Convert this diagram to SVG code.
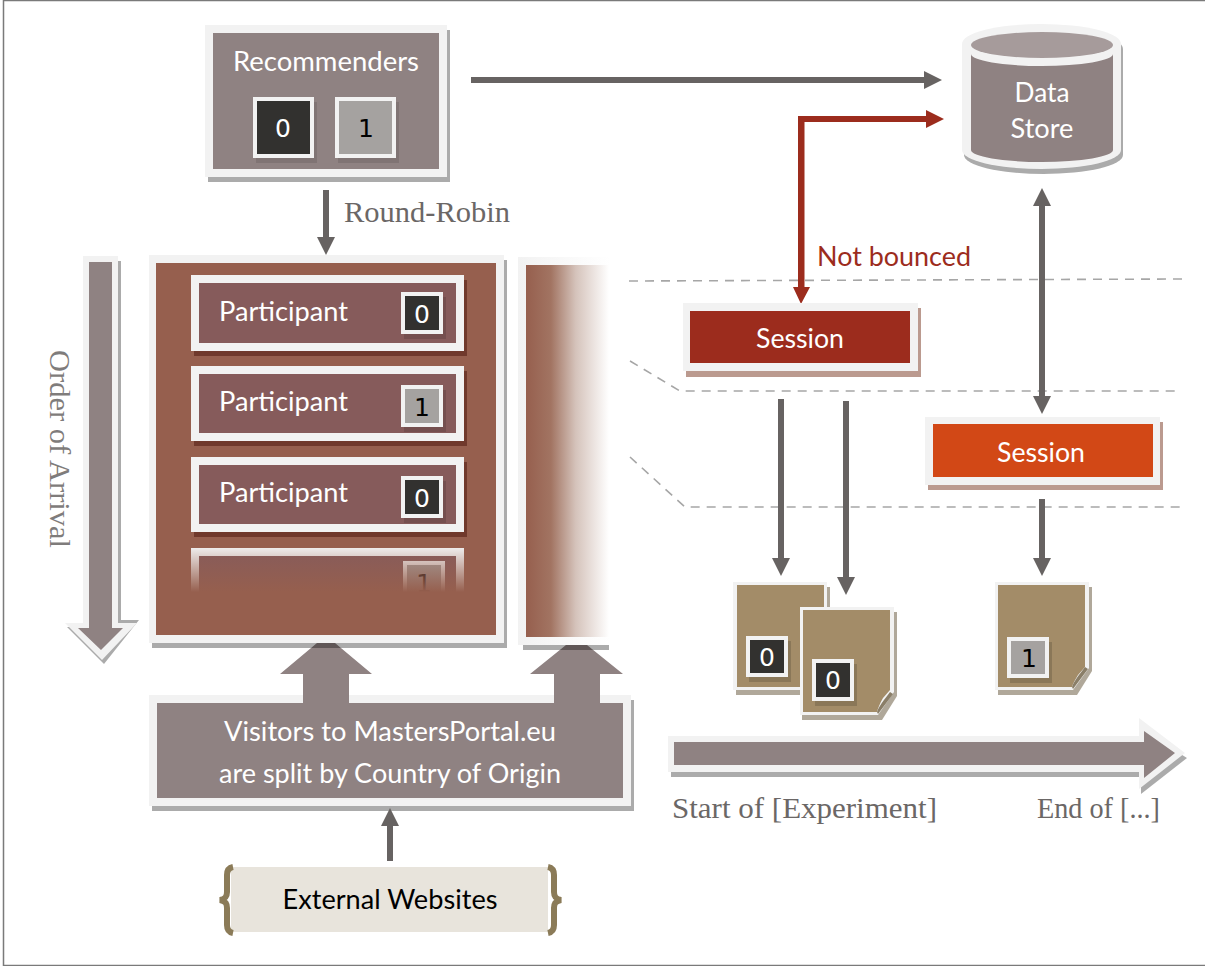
<svg xmlns="http://www.w3.org/2000/svg" width="1205" height="966" viewBox="0 0 1205 966">
<style>
.fr{fill:#f2f2f2}
.sh{fill:#000;fill-opacity:.33}
.gr{fill:#8f8282}
.ln{fill:#676362}
.rd{fill:#9c2c1d}
.dk{fill:#32312f}
.lg{fill:#a5a2a0}
.dash{fill:none;stroke:#a6a6a6;stroke-width:1.6;stroke-dasharray:9 7}
text{font-family:"Lato","Open Sans",sans-serif;font-size:27px;fill:#fff}
.c{text-anchor:middle}
.dg{font-family:"DejaVu Sans",sans-serif;font-size:25px;text-anchor:middle}
.se{font-family:"Liberation Serif",serif;font-size:30px;fill:#6b6766}
.doc{fill:#a38c68}
</style>
<defs>
<linearGradient id="fadeR" x1="0" x2="1" y1="0" y2="0">
<stop offset="0" stop-color="#965f4e"/><stop offset=".3" stop-color="#a27462"/><stop offset=".6" stop-color="#d5c3bb"/><stop offset="1" stop-color="#fff"/>
</linearGradient>
<linearGradient id="fadeF" x1="0" x2="1" y1="0" y2="0">
<stop offset="0" stop-color="#f2f2f2"/><stop offset="1" stop-color="#fff"/>
</linearGradient>
<linearGradient id="fadeD" x1="0" x2="0" y1="0" y2="1">
<stop offset="0" stop-color="#965f4e" stop-opacity="0"/><stop offset="1" stop-color="#965f4e"/>
</linearGradient>
</defs>
<rect x="3.500" y="0.500" width="1212" height="965" fill="#fff" stroke="#7a7a7a" stroke-width="1.5"/>

<g id="visitors">
<rect class="sh" x="152" y="700" width="482" height="111"/>
<rect class="fr" x="149" y="695" width="482" height="111"/>
<rect class="gr" x="157" y="703" width="466" height="95"/>
<text class="c" x="390" y="741" textLength="332" lengthAdjust="spacingAndGlyphs">Visitors to MastersPortal.eu</text>
<text class="c" x="390" y="783" textLength="342" lengthAdjust="spacingAndGlyphs">are split by Country of Origin</text>
</g>

<g id="connectors">
<path class="dash" d="M629 281L1183 279"/>
<path class="dash" d="M630 361L680 391L1180 391"/>
<path class="dash" d="M630 457L685 507L1183 507"/>
<path class="gr" d="M317 643H335L372 674H349V705H303V674H280Z"/>
<path class="gr" d="M566 645H587L623 674H600V705H554V674H530Z"/>
<path class="ln" d="M471 77H924V71L942 80L924 89V83H471Z"/>
<path class="ln" d="M323 190H329V237H335L326 255L317 237H323Z"/>
<path class="ln" d="M387 861V826H381L390 808L399 826H393V861Z"/>
<path class="ln" d="M778 399H784V558H790L781 576L772 558H778Z"/>
<path class="ln" d="M843 401H849V577H855L846 595L837 577H843Z"/>
<path class="ln" d="M1039 499H1045V558H1051L1042 576L1033 558H1039Z"/>
<path class="ln" d="M1039 206H1033L1042 188L1051 206H1045V396H1051L1042 414L1033 396H1039Z"/>
<path class="rd" d="M798 287V116H926V110L944 119L926 128V122H804.500V287H810L801 304L793 287Z"/>
<text x="817" y="266" textLength="154" lengthAdjust="spacingAndGlyphs" style="fill:#9c2c1d">Not bounced</text>
<text class="se" x="344" y="222" textLength="166" lengthAdjust="spacingAndGlyphs">Round-Robin</text>
</g>

<g id="recommenders">
<rect class="sh" x="208" y="30" width="242" height="152"/>
<rect class="fr" x="205" y="25" width="242" height="152"/>
<rect class="gr" x="213" y="33" width="226" height="136"/>
<text class="c" x="326" y="71" textLength="186" lengthAdjust="spacingAndGlyphs">Recommenders</text>
<rect class="sh" x="256" y="102" width="61" height="61" style="fill-opacity:.1"/>
<rect class="fr" x="253" y="97" width="61" height="61"/><rect class="dk" x="257" y="101" width="53" height="53"/>
<text class="dg" x="283" y="137">0</text>
<rect class="sh" x="338" y="102" width="61" height="61" style="fill-opacity:.1"/>
<rect class="fr" x="335" y="97" width="61" height="61"/><rect class="lg" x="339" y="101" width="53" height="53"/>
<text class="dg" x="366" y="137" style="fill:#000">1</text>
</g>

<g id="order-arrow">
<path class="sh" d="M86 261H121V620H139L104 664L67 627H86Z"/>
<path class="fr" d="M83 256H118V623H137L102 660L65 623H83Z"/>
<path class="gr" d="M89 262H112V628H123L101 650L78 628H89Z"/>
<text class="se" transform="translate(50 350) rotate(90)" x="0" y="0" textLength="198" lengthAdjust="spacingAndGlyphs" style="fill:#7f7c7b">Order of Arrival</text>
</g>

<g id="panel-main">
<rect class="sh" x="152" y="260" width="355" height="388"/>
<rect class="fr" x="149" y="255" width="355" height="388"/>
<rect fill="#965f4e" x="156" y="263" width="340" height="372"/>
</g>
<g id="participant-1">
<rect fill="#70392c" x="194" y="280" width="273" height="76"/>
<rect class="fr" x="191" y="275" width="273" height="76"/>
<rect fill="#865b5b" x="199" y="283" width="257" height="60"/>
<text x="219" y="321" textLength="129" lengthAdjust="spacingAndGlyphs">Participant</text>
<rect class="sh" x="404" y="297" width="42" height="42" style="fill-opacity:.12"/>
<rect class="fr" x="401" y="292" width="42" height="42"/><rect class="dk" x="405" y="296" width="34" height="34"/>
<text class="dg" x="422" y="323">0</text>
</g>
<g id="participant-2">
<rect fill="#70392c" x="194" y="371" width="273" height="75"/>
<rect class="fr" x="191" y="366" width="273" height="75"/>
<rect fill="#865b5b" x="199" y="374" width="257" height="59"/>
<text x="219" y="411" textLength="129" lengthAdjust="spacingAndGlyphs">Participant</text>
<rect class="sh" x="404" y="390" width="42" height="42" style="fill-opacity:.12"/>
<rect class="fr" x="401" y="385" width="42" height="42"/><rect class="lg" x="405" y="389" width="34" height="34"/>
<text class="dg" x="422" y="416" style="fill:#000">1</text>
</g>
<g id="participant-3">
<rect fill="#70392c" x="194" y="462" width="273" height="75"/>
<rect class="fr" x="191" y="457" width="273" height="75"/>
<rect fill="#865b5b" x="199" y="465" width="257" height="59"/>
<text x="219" y="502" textLength="129" lengthAdjust="spacingAndGlyphs">Participant</text>
<rect class="sh" x="404" y="481" width="42" height="42" style="fill-opacity:.12"/>
<rect class="fr" x="401" y="476" width="42" height="42"/><rect class="dk" x="405" y="480" width="34" height="34"/>
<text class="dg" x="422" y="507">0</text>
</g>
<g id="participant-4">
<rect class="fr" x="191" y="548" width="273" height="46"/>
<rect fill="#865b5b" x="199" y="556" width="257" height="40"/>
<rect class="fr" x="403" y="561" width="42" height="36"/><rect class="lg" x="407" y="565" width="34" height="32"/>
<text class="dg" x="424" y="592" style="fill:#000">1</text>
<rect fill="url(#fadeD)" x="188" y="546" width="280" height="46"/>
<rect fill="#965f4e" x="188" y="592" width="280" height="8"/>
</g>
<g id="panel-fade">
<rect class="sh" x="523" y="645" width="86" height="5"/>
<rect fill="url(#fadeF)" x="518" y="257" width="92" height="388"/>
<rect fill="url(#fadeR)" x="526" y="265" width="83" height="372"/>
</g>

<g id="external-websites">
<rect fill="#e8e4dc" x="231" y="867" width="317" height="65"/>
<path fill="none" stroke="#8b7b58" stroke-width="6" d="M233 867C228 868 227 871 227 875V892C227 897 225 899 220 900C225 901 227 903 227 908V925C227 929 228 932 233 933"/>
<path fill="none" stroke="#8b7b58" stroke-width="6" d="M548 867C553 868 554 871 554 875V892C554 897 556 899 561 900C556 901 554 903 554 908V925C554 929 553 932 548 933"/>
<text class="c" x="390" y="909" textLength="215" lengthAdjust="spacingAndGlyphs" style="fill:#000">External Websites</text>
</g>

<g id="data-store">
<path class="sh" d="M964 49A79.500 20 0 0 1 1123 49V155A79.500 19 0 0 1 964 155Z"/>
<path class="fr" d="M962 44A79.500 20 0 0 1 1121 44V150A79.500 19 0 0 1 962 150Z"/>
<path class="gr" d="M971 54A71 12 0 0 0 1113 54V150A71 12 0 0 1 971 150Z"/>
<ellipse cx="1042" cy="45" rx="71" ry="13" fill="#a69b9b"/>
<text class="c" x="1042" y="102" textLength="55" lengthAdjust="spacingAndGlyphs">Data</text>
<text class="c" x="1042" y="138" textLength="63" lengthAdjust="spacingAndGlyphs">Store</text>
</g>

<g id="session-1">
<rect x="686" y="308" width="235" height="69" fill="#bb9a8f"/>
<rect class="fr" x="683" y="303" width="235" height="68"/>
<rect fill="#9c2c1d" x="690" y="311" width="220" height="52"/>
<text class="c" x="800" y="348" textLength="88" lengthAdjust="spacingAndGlyphs">Session</text>
</g>
<g id="session-2">
<rect x="928" y="422" width="235" height="68" fill="#bb9a8f"/>
<rect class="fr" x="925" y="417" width="235" height="68"/>
<rect fill="#d24816" x="933" y="424" width="220" height="53"/>
<text class="c" x="1041" y="462" textLength="88" lengthAdjust="spacingAndGlyphs">Session</text>
</g>

<g id="doc-1">
<rect x="736" y="587" width="94" height="108" fill="#b0a89a"/>
<rect class="fr" x="733" y="582" width="94" height="108"/>
<rect class="doc" x="737" y="585" width="87" height="102"/>
<rect class="sh" x="749" y="641" width="42" height="41" style="fill-opacity:.15"/>
<rect class="fr" x="746" y="636" width="42" height="41"/><rect class="dk" x="750" y="640" width="34" height="33"/>
<text class="dg" x="767" y="666">0</text>
</g>
<g id="doc-2">
<path d="M802 612H897V696L882 720H802Z" fill="#b0a89a"/>
<path class="fr" d="M800 607H894V692L878 715H800Z"/>
<path class="doc" d="M803 610H890V690L883 698C880 703 878 708 877 712H803Z"/>
<path fill="#8a7e68" d="M877 712C879 706 884 700 890 692L893 694L878 714Z"/>
<rect class="sh" x="815" y="664" width="42" height="42" style="fill-opacity:.15"/>
<rect class="fr" x="812" y="659" width="42" height="42"/><rect class="dk" x="816" y="663" width="34" height="34"/>
<text class="dg" x="833" y="689">0</text>
</g>
<g id="doc-3">
<path d="M998 587H1092V671L1077 695H998Z" fill="#b0a89a"/>
<path class="fr" d="M995 582H1089V668L1073 690H995Z"/>
<path class="doc" d="M998 585H1085V667L1078 675C1075 680 1073 683 1072 687H998Z"/>
<path fill="#8a7e68" d="M1072 687C1074 681 1079 675 1085 667L1088 669L1073 689Z"/>
<rect class="sh" x="1010" y="642" width="42" height="41" style="fill-opacity:.15"/>
<rect class="fr" x="1007" y="637" width="42" height="41"/><rect class="lg" x="1011" y="641" width="34" height="33"/>
<text class="dg" x="1029" y="667" style="fill:#000">1</text>
</g>

<g id="timeline">
<path class="sh" d="M671 741H1142V730L1187 758L1141 794V777H671Z"/>
<path class="fr" d="M668 736H1139V718L1185 753L1139 789V772H668Z"/>
<path class="gr" d="M674 742H1144V731L1175 753L1144 778V765H674Z"/>
<text class="se" x="672" y="818" textLength="265" lengthAdjust="spacingAndGlyphs">Start of [Experiment]</text>
<text class="se" x="1037" y="818" textLength="123" lengthAdjust="spacingAndGlyphs">End of [...]</text>
</g>
</svg>
